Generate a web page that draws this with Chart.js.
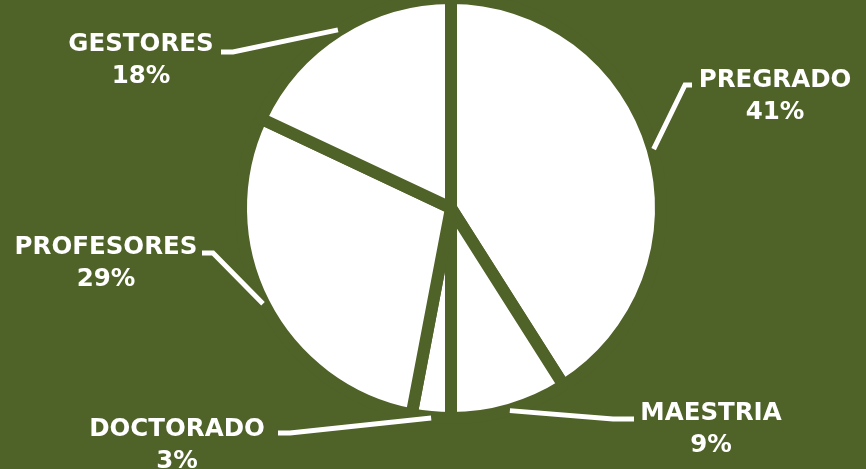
<!DOCTYPE html>
<html>
<head>
<meta charset="utf-8">
<script src="https://cdn.jsdelivr.net/npm/chart.js@4.4.0/dist/chart.umd.min.js"></script>
<style>
  html, body { margin: 0; padding: 0; background: #4F6228; }
  #wrap { position: relative; width: 866px; height: 469px; overflow: hidden; }
  canvas { display: block; position: absolute; left: 0; top: -20px; }
</style>
</head>
<body>
<div id="wrap"><canvas id="c" width="866" height="500"></canvas></div>
<script>
const categories = ['PREGRADO', 'MAESTRIA', 'DOCTORADO', 'PROFESORES', 'GESTORES'];
const values = [41, 9, 3, 29, 18];
const percentLabels = ['41%', '9%', '3%', '29%', '18%'];

const BG = '#4F6228';
const OFF = 20; // canvas is shifted up by this many pixels

// label layout (page coordinates): text center, elbow point, end point next to text
const labelLayout = [
  { tx: 775, ty: 78, elbow: [685, 85], end: [692, 85] },
  { tx: 711, ty: 411, elbow: [613, 419], end: [634, 419] },
  { tx: 177, ty: 427, elbow: [290, 433], end: [278, 433] },
  { tx: 106, ty: 245, elbow: [213, 253], end: [202, 253] },
  { tx: 141, ty: 42, elbow: [233, 52], end: [221, 52] }
];

const labelPlugin = {
  id: 'leaderLabels',
  afterDatasetsDraw(chart) {
    const ctx = chart.ctx;
    const meta = chart.getDatasetMeta(0);
    ctx.save();
    meta.data.forEach((arc, i) => {
      const p = arc.getProps(['x', 'y', 'startAngle', 'endAngle', 'outerRadius'], true);
      const mid = (p.startAngle + p.endAngle) / 2;
      const sx = p.x + Math.cos(mid) * (p.outerRadius + 1);
      const sy = p.y + Math.sin(mid) * (p.outerRadius + 1);
      const L = labelLayout[i];
      ctx.strokeStyle = '#ffffff';
      ctx.lineWidth = 5;
      ctx.lineCap = 'butt';
      ctx.lineJoin = 'miter';
      ctx.beginPath();
      ctx.moveTo(sx, sy);
      ctx.lineTo(L.elbow[0], L.elbow[1] + OFF);
      ctx.lineTo(L.end[0], L.end[1] + OFF);
      ctx.stroke();

      ctx.fillStyle = '#ffffff';
      ctx.font = 'bold 24.5px "DejaVu Sans"';
      ctx.textAlign = 'center';
      ctx.textBaseline = 'alphabetic';
      ctx.fillText(chart.data.labels[i], L.tx, L.ty + OFF + 9);
      ctx.fillText(percentLabels[i], L.tx, L.ty + OFF + 32 + 9);
    });
    ctx.restore();
  }
};

new Chart(document.getElementById('c'), {
  type: 'pie',
  data: {
    labels: categories,
    datasets: [{
      data: values,
      backgroundColor: '#ffffff',
      borderColor: BG,
      borderWidth: 12,
      hoverOffset: 0
    }]
  },
  options: {
    responsive: false,
    animation: false,
    events: [],
    layout: { padding: { left: 235, right: 199, top: 12, bottom: 56 } },
    plugins: {
      legend: { display: false },
      tooltip: { enabled: false }
    }
  },
  plugins: [labelPlugin]
});
</script>
</body>
</html>
